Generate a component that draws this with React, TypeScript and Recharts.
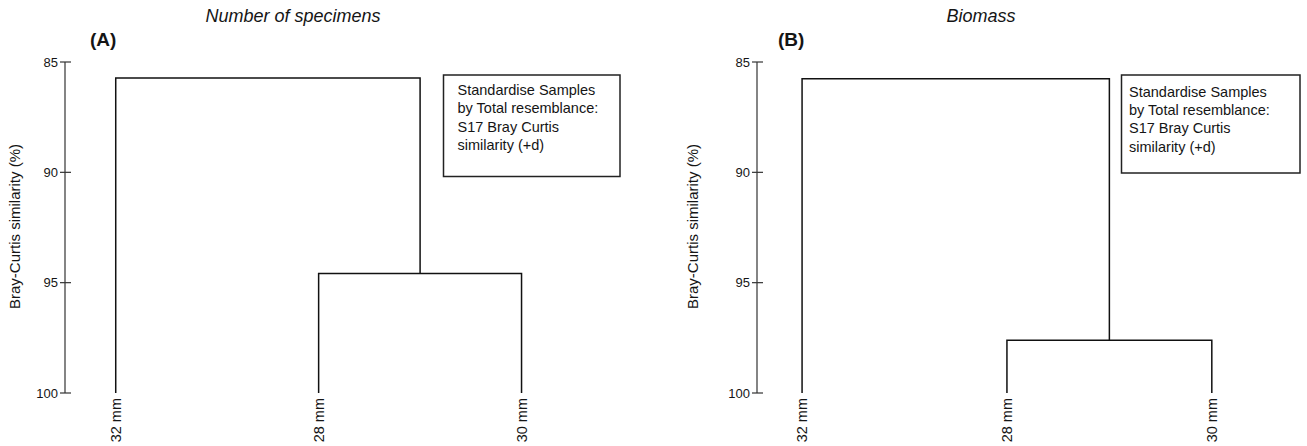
import React from 'react';
import { LineChart, Line, XAxis, YAxis } from 'recharts';

// ---- data ----
const leafLabels = ['32 mm', '28 mm', '30 mm'];
const leafPositions = [0, 1, 2];
// similarity (%) at which 28 mm & 30 mm join, then at which 32 mm joins that cluster
const specimensMerge = [94.59, 85.72];
const biomassMerge = [97.61, 85.76];
const yTicks = [85, 90, 95, 100];
const yLabel = 'Bray-Curtis similarity (%)';
const boxLines = ['Standardise Samples', 'by Total resemblance:', 'S17 Bray Curtis', 'similarity (+d)'];

const FONT = '"Liberation Sans", Arial, Helvetica, sans-serif';
const INK = '#151515';

function buildLinks(merge: number[]) {
  const [h1, h2] = merge;
  const mid = (leafPositions[1] + leafPositions[2]) / 2;
  const link1 = [
    { x: leafPositions[1], y: 100 },
    { x: leafPositions[1], y: h1 },
    { x: leafPositions[2], y: h1 },
    { x: leafPositions[2], y: 100 },
  ];
  const link2 = [
    { x: leafPositions[0], y: 100 },
    { x: leafPositions[0], y: h2 },
    { x: mid, y: h2 },
    { x: mid, y: h1 },
  ];
  return [link1, link2];
}

const YTick = (props: any) => {
  const { x, y, payload } = props;
  const ax = x + 7;
  return (
    <g>
      <line x1={ax - 5} x2={ax + 6} y1={y} y2={y} stroke="#333" strokeWidth={1.2} />
      <text x={x} y={y} dy={4.5} textAnchor="end" fontSize={13} fontFamily={FONT} fill={INK}>
        {payload.value}
      </text>
    </g>
  );
};

const XTick = (props: any) => {
  const { x, y, payload } = props;
  const idx = leafPositions.indexOf(payload.value);
  const label = idx >= 0 ? leafLabels[idx] : '';
  return (
    <text
      x={x}
      y={y}
      transform={`rotate(-90, ${x}, ${y})`}
      textAnchor="end"
      dy={5}
      fontSize={14.5}
      fontFamily={FONT}
      fill={INK}
    >
      {label}
    </text>
  );
};

type PanelProps = {
  merge: number[];
  left: number;
  width: number;
  yAxisWidth: number;
  domain: [number, number];
  marginRight: number;
  labelOffset: number;
};

const Panel = ({ merge, left, width, yAxisWidth, domain, marginRight, labelOffset }: PanelProps) => {
  const links = buildLinks(merge);
  return (
    <div style={{ position: 'absolute', left, top: 0 }}>
      <LineChart width={width} height={446} margin={{ top: 62, right: marginRight, bottom: 0, left: 0 }}>
        <XAxis
          dataKey="x"
          type="number"
          domain={domain}
          ticks={leafPositions}
          allowDataOverflow
          axisLine={false}
          tickLine={false}
          tickSize={0}
          tickMargin={5}
          height={53}
          tick={<XTick />}
          interval={0}
        />
        <YAxis
          dataKey="y"
          type="number"
          domain={[85, 100]}
          reversed
          ticks={yTicks}
          width={yAxisWidth}
          axisLine={{ stroke: '#333', strokeWidth: 1.2 }}
          tickLine={false}
          tickSize={6}
          tickMargin={1}
          tick={<YTick />}
          interval={0}
          label={{
            content: (p: any) => {
              const vb = p.viewBox;
              const cx = vb.x + vb.width - labelOffset;
              const cy = vb.y + vb.height / 2 - 1;
              return (
                <text
                  x={cx}
                  y={cy}
                  transform={`rotate(-90, ${cx}, ${cy})`}
                  textAnchor="middle"
                  dy={5}
                  fontSize={15}
                  fontFamily={FONT}
                  fill={INK}
                >
                  {yLabel}
                </text>
              );
            },
          }}
        />
        {links.map((d, i) => (
          <Line
            key={i}
            data={d}
            dataKey="y"
            type="linear"
            stroke="#111"
            strokeWidth={1.5}
            dot={false}
            activeDot={false}
            isAnimationActive={false}
          />
        ))}
      </LineChart>
    </div>
  );
};

const Box = ({ x, y, w, h, tx, ty }: { x: number; y: number; w: number; h: number; tx: number; ty: number }) => (
  <g>
    <rect x={x} y={y} width={w} height={h} fill="#fff" stroke="#222" strokeWidth={1.5} />
    {boxLines.map((t, i) => (
      <text key={i} x={tx} y={ty + i * 18.4} fontSize={14.5} fontFamily={FONT} fill={INK}>
        {t}
      </text>
    ))}
  </g>
);

export default function App() {
  return (
    <div style={{ position: 'absolute', left: 0, top: 0, width: 1307, height: 446, background: '#fff', overflow: 'hidden' }}>
      <Panel merge={specimensMerge} left={0} width={640} yAxisWidth={65} domain={[-0.25, 2.5]} marginRight={17} labelOffset={50} />
      <Panel merge={biomassMerge} left={660} width={647} yAxisWidth={97} domain={[-0.22, 2.45]} marginRight={3} labelOffset={64} />
      <svg width={1307} height={446} style={{ position: 'absolute', left: 0, top: 0, pointerEvents: 'none' }}>
        <text x={293} y={22} textAnchor="middle" fontSize={18} fontStyle="italic" fontFamily={FONT} fill={INK}>
          Number of specimens
        </text>
        <text x={981} y={22} textAnchor="middle" fontSize={18} fontStyle="italic" fontFamily={FONT} fill={INK}>
          Biomass
        </text>
        <text x={90} y={46} fontSize={19} fontWeight="bold" fontFamily={FONT} fill={INK}>
          (A)
        </text>
        <text x={778} y={46} fontSize={19} fontWeight="bold" fontFamily={FONT} fill={INK}>
          (B)
        </text>
        <Box x={443.5} y={75} w={176.5} h={101.5} tx={457.5} ty={95} />
        <Box x={1121.5} y={75} w={178.5} h={98} tx={1129} ty={96.5} />
      </svg>
    </div>
  );
}
